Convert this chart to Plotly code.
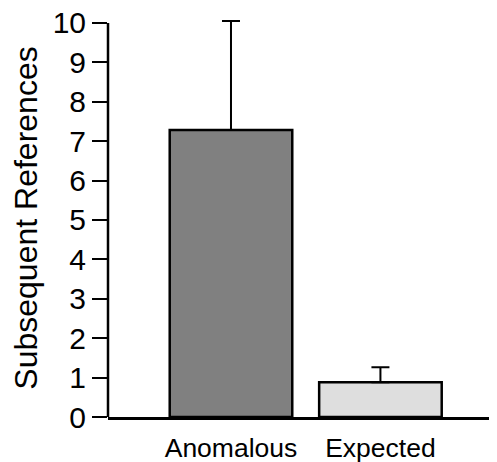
import plotly.graph_objects as go

categories = ["Anomalous", "Expected"]
means = [7.28, 0.88]
errors = [2.77, 0.38]
fill_colors = ["#808080", "#dedede"]
y_ticks = list(range(0, 11))

fig = go.Figure()
fig.add_trace(go.Bar(
    x=[0, 1],
    y=means,
    width=0.82,
    marker=dict(color=fill_colors, line=dict(color="black", width=2.5)),
    error_y=dict(type="data", array=errors, symmetric=False, arrayminus=[0, 0],
                 color="black", thickness=2, width=9),
    showlegend=False,
))

# y axis line from 0 to the top tick only (range is extended so the error cap is not clipped)
fig.add_shape(type="line", xref="paper", yref="y", x0=0, x1=0,
              y0=y_ticks[0], y1=y_ticks[-1], line=dict(color="black", width=2.5))

fig.update_layout(
    width=489, height=454,
    margin=dict(l=100, r=0, t=11, b=45, autoexpand=False),
    paper_bgcolor="white", plot_bgcolor="white",
    font=dict(family="Liberation Sans, Arial, sans-serif", color="black"),
)
fig.update_xaxes(
    range=[-0.823, 1.78],
    tickmode="array", tickvals=[0, 1], ticktext=categories,
    tickfont=dict(size=26.5),
    showline=True, linecolor="black", linewidth=2.5,
    ticks="", ticklabelstandoff=5, ticklabeloverflow="allow",
    showgrid=False, zeroline=False,
)
fig.update_yaxes(
    range=[0, 10.1],
    tickmode="array", tickvals=y_ticks,
    tickfont=dict(size=30),
    showline=False, ticklabeloverflow="allow",
    ticks="outside", ticklen=15, tickwidth=2, tickcolor="black",
    showgrid=False, zeroline=False,
    title=dict(text="Subsequent References", font=dict(size=32), standoff=17),
)

fig.write_html("out.html")
